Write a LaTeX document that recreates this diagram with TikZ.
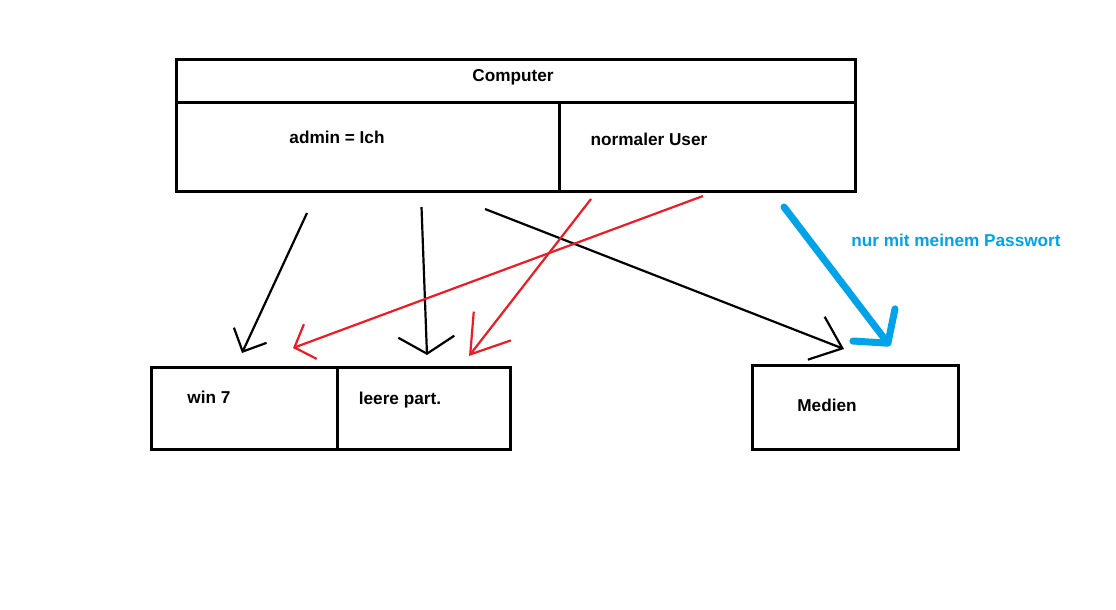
\documentclass[tikz,border=0pt]{standalone}
\usepackage{fontspec}
\setsansfont{Liberation Sans}
\usetikzlibrary{arrows.meta}
\definecolor{paintred}{RGB}{237,28,36}
\definecolor{paintblue}{RGB}{0,162,232}
\tikzset{
	node_box/.style = {
		rectangle,
		draw=black,
		line width=3pt,
		inner sep=0pt,
		outer sep=0pt,
		anchor=north west
	},
	node_label/.style = {
		font=\sffamily\bfseries\fontsize{17.2}{20}\selectfont,
		inner sep=0pt,
		anchor=base
	},
	node_label_blue/.style = {
		node_label,
		text=paintblue
	},
	arrow_black/.style = {
		draw=black,
		line width=2.2pt
	},
	arrow_red/.style = {
		arrow_black,
		draw=paintred
	},
	arrow_blue/.style = {
		draw=paintblue,
		line width=7pt,
		line cap=round,
		line join=round
	},
}

\begin{document}
\begin{tikzpicture}[x=1pt, y=-1pt]
\useasboundingbox (0,0) rectangle (1116,610);
% boxes
\node [node_box, minimum width=679pt, minimum height=42pt] (computer) at (176,60) {};
\node [node_box, minimum width=383pt, minimum height=89pt] (admin) at (computer.south west) {};
\node [node_box, minimum width=296pt, minimum height=89pt] (user) at (admin.north east) {};
\node [node_box, minimum width=186pt, minimum height=82pt] (win) at (151,367) {};
\node [node_box, minimum width=173pt, minimum height=82pt] (leer) at (win.north east) {};
\node [node_box, minimum width=206pt, minimum height=84pt] (medien) at (752,365) {};
% texts
\node [node_label] (computer_text) at (513,81.5) {Computer};
\node [node_label] (admin_text) at (337,143) {admin = Ich};
\node [node_label] (user_text) at (649,145.5) {normaler User};
\node [node_label] (win_text) at (209,403) {win 7};
\node [node_label] (leer_text) at (400,404) {leere part.};
\node [node_label] (medien_text) at (827,411.5) {Medien};
\node [node_label_blue] (passwort_text) at (956,246.5) {nur mit meinem Passwort};
% arrow ends
\coordinate (admin_out_1) at (307,213);
\coordinate (admin_out_2) at (421.5,207);
\coordinate (admin_out_3) at (485,209);
\coordinate (user_out_1) at (703,196);
\coordinate (user_out_2) at (591,199);
\coordinate (user_out_3) at (784,207);
\coordinate (win_in_1) at (242,353);
\coordinate (win_in_2) at (293,348);
\coordinate (leer_in_1) at (427,355);
\coordinate (leer_in_2) at (469,356);
\coordinate (medien_in_1) at (844,349);
\coordinate (medien_in_2) at (890,346);
% arrows
\draw [arrow_black, -{Straight Barb[length=18pt,width=36pt]}] (admin_out_1) -- (win_in_1);
\draw [arrow_black, -{Straight Barb[length=17pt,width=56pt]}] (admin_out_2) -- (leer_in_1);
\draw [arrow_black, -{Straight Barb[length=28pt,width=46pt]}] (admin_out_3) -- (medien_in_1);
\draw [arrow_red, -{Straight Barb[length=17pt,width=37pt]}] (user_out_1) -- (win_in_2);
\draw [arrow_red, -{Straight Barb[length=36pt,width=47pt]}] (user_out_2) -- (leer_in_2);
\draw [arrow_blue, -{Straight Barb[round,length=23pt,width=53pt]}] (user_out_3) -- (medien_in_2);
\end{tikzpicture}
\end{document}
